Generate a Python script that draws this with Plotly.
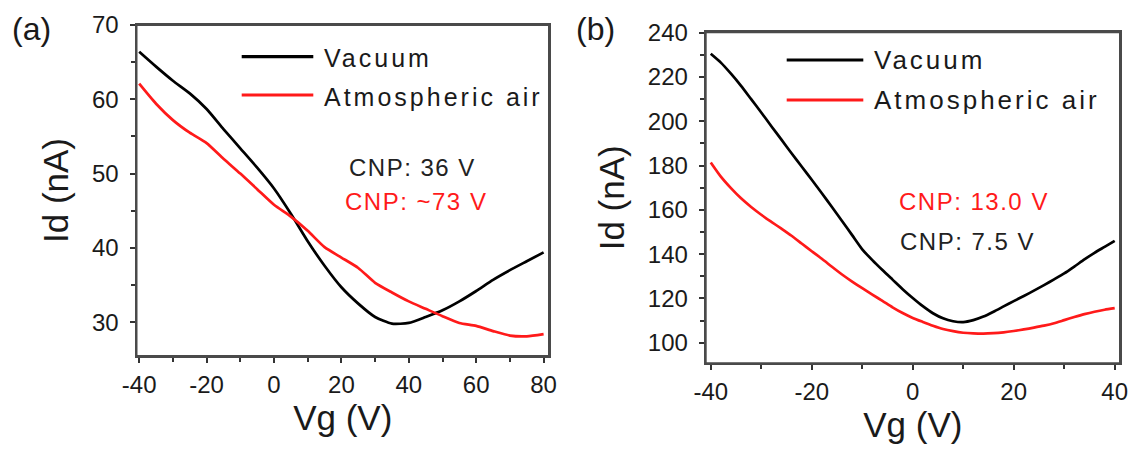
import plotly.graph_objects as go

W, H = 1132, 452

# ---------------- data ----------------
vg_a = [-40, -35, -30, -25, -20, -15, -10, -5, 0, 5, 10, 15, 20, 25, 30, 35, 40, 45, 50, 55, 60, 65, 70, 75, 80]
id_a_vacuum = [66.4, 64.4, 62.5, 60.8, 58.7, 56.0, 53.4, 50.8, 48.0, 44.6, 40.9, 37.6, 34.7, 32.5, 30.7, 29.8,
               29.9, 30.7, 31.6, 32.8, 34.2, 35.7, 37.0, 38.2, 39.4]
id_a_air = [62.1, 59.4, 57.2, 55.5, 54.1, 52.0, 50.0, 47.9, 45.8, 44.2, 42.3, 40.1, 38.7, 37.3, 35.3, 34.0,
            32.8, 31.8, 30.8, 29.9, 29.5, 28.8, 28.2, 28.1, 28.4]

vg_b = [-40, -38, -36, -34, -32, -30, -28, -26, -24, -22, -20, -18, -16, -14, -12, -10, -8, -6, -4, -2, 0,
        2, 4, 6, 8, 10, 12, 14, 16, 18, 20, 22, 24, 26, 28, 30, 32, 34, 36, 38, 40]
id_b_vacuum = [230.5, 226.5, 221.5, 216.0, 210.0, 204.0, 197.8, 191.7, 185.6, 179.6, 173.6, 167.5, 161.3, 155.0,
               148.6, 142.2, 137.3, 132.8, 128.5, 124.2, 120.2, 116.5, 113.3, 111.0, 109.7, 109.3, 110.2,
               111.8, 114.0, 116.4, 118.8, 121.1, 123.5, 126.0, 128.6, 131.3, 134.4, 137.6, 140.6, 143.3, 146.0]
id_b_air = [181.4, 175.0, 169.8, 165.2, 161.3, 157.8, 154.6, 151.5, 148.3, 144.8, 141.3, 137.9, 134.3, 130.8,
            127.6, 124.6, 121.7, 118.9, 116.0, 113.4, 111.2, 109.4, 107.7, 106.2, 105.2, 104.5, 104.2, 104.1,
            104.3, 104.7, 105.3, 106.0, 106.8, 107.7, 108.8, 110.2, 111.6, 112.9, 114.0, 114.9, 115.6]

series_names = ["Vacuum", "Atmospheric air"]
series_colors = ["#000000", "#ff1a1a"]
cnp_a = ["CNP: 36 V", "CNP: ~73 V"]
cnp_b = ["CNP: 13.0 V", "CNP: 7.5 V"]

x_ticks_a = [-40, -20, 0, 20, 40, 60, 80]
y_ticks_a = [30, 40, 50, 60, 70]
x_ticks_b = [-40, -20, 0, 20, 40]
y_ticks_b = [100, 120, 140, 160, 180, 200, 220, 240]

FONT = "Liberation Sans, Arial, sans-serif"
TXT = "#1a1a1a"
FRAME = "#4a4a4a"

BOX_A = (136.5, 549.0, 25.0, 356.0)
BOX_B = (705.7, 1120.0, 32.3, 363.3)


def px(x):
    return x / W


def py(y):
    return 1 - y / H


fig = go.Figure()
for xs, ys_list, xa_name, ya_name in [(vg_a, [id_a_vacuum, id_a_air], "x", "y"),
                                      (vg_b, [id_b_vacuum, id_b_air], "x2", "y2")]:
    for i, ys in enumerate(ys_list):
        fig.add_trace(go.Scatter(x=xs, y=ys, mode="lines", name=series_names[i],
                                 line=dict(color=series_colors[i], width=2.7, shape="spline", smoothing=0.6),
                                 xaxis=xa_name, yaxis=ya_name, showlegend=False))


def axis_common(ticks, minor_dtick):
    return dict(
        showline=True, linecolor=FRAME, linewidth=2, mirror=True,
        ticks="outside", ticklen=5, tickwidth=1.5, tickcolor="#333333",
        showgrid=False, zeroline=False,
        tickmode="array", tickvals=ticks, ticktext=[str(t) for t in ticks],
        minor=dict(ticks="outside", ticklen=4, tickwidth=1.5, tickcolor="#333333", dtick=minor_dtick,
                   tick0=ticks[0], showgrid=False),
        tickfont=dict(family=FONT, size=24, color=TXT),
    )


title_font = dict(family=FONT, size=35, color=TXT)

xa = axis_common(x_ticks_a, 10)
xa.update(domain=[px(BOX_A[0]), px(BOX_A[1])], range=[-40.8, 81.6], anchor="y",
          title=dict(text="Vg (V)", font=title_font, standoff=6), ticklabelstandoff=1)
ya = axis_common(y_ticks_a, 5)
ya.update(domain=[py(BOX_A[3]), py(BOX_A[2])], range=[25.45, 70], anchor="x",
          title=dict(text="Id (nA)", font=title_font, standoff=13), ticklabelstandoff=6)
xb = axis_common(x_ticks_b, 10)
xb.update(domain=[px(BOX_B[0]), px(BOX_B[1])], range=[-41.0, 41.05], anchor="y2",
          title=dict(text="Vg (V)", font=title_font, standoff=6), ticklabelstandoff=1)
yb = axis_common(y_ticks_b, 10)
yb.update(domain=[py(BOX_B[3]), py(BOX_B[2])], range=[90.7, 240.2], anchor="x2",
          title=dict(text="Id (nA)", font=title_font, standoff=13), ticklabelstandoff=6)

shapes = []
annotations = []

# frame around both plot areas
for l, r, t, b in [BOX_A, BOX_B]:
    for (x0, y0, x1, y1) in [(l, t, r, t), (l, b, r, b), (l, t, l, b), (r, t, r, b)]:
        shapes.append(dict(type="line", xref="paper", yref="paper", x0=px(x0), x1=px(x1),
                           y0=py(y0), y1=py(y1), line=dict(color=FRAME, width=2)))

# custom legends (long line samples)
legend_specs = [
    (241.7, 313.3, [56.7, 95.0], 321.7, [58.3, 97.0], 25, 3),
    (786.7, 863.3, [60.0, 100.0], 871.7, [60.0, 100.0], 26, 3),
]
for lx0, lx1, rows, tx, trows, fs, sp in legend_specs:
    for i in range(2):
        shapes.append(dict(type="line", xref="paper", yref="paper", x0=px(lx0), x1=px(lx1),
                           y0=py(rows[i]), y1=py(rows[i]),
                           line=dict(color=series_colors[i], width=3.2)))
        annotations.append(dict(xref="paper", yref="paper", x=px(tx), y=py(trows[i]),
                                xanchor="left", yanchor="middle", showarrow=False,
                                text=f'<span style="letter-spacing:{sp}px">{series_names[i]}</span>',
                                font=dict(family=FONT, size=fs, color=TXT)))

# CNP annotations
cnp_specs = [
    (346.7, 167.5, cnp_a[0], series_colors[0]),
    (343.3, 201.0, cnp_a[1], series_colors[1]),
    (897.0, 201.0, cnp_b[0], series_colors[1]),
    (898.0, 241.0, cnp_b[1], series_colors[0]),
]
for x, y, t, c in cnp_specs:
    annotations.append(dict(xref="paper", yref="paper", x=px(x), y=py(y), xanchor="left", yanchor="middle",
                            showarrow=False,
                            text=f'<span style="letter-spacing:1.5px">{t}</span>',
                            font=dict(family=FONT, size=24, color="#222222" if c == "#000000" else c)))

# panel labels
for x, t in [(10, "(a)"), (574, "(b)")]:
    annotations.append(dict(xref="paper", yref="paper", x=px(x), y=py(28.5), xanchor="left", yanchor="middle",
                            showarrow=False, text=t, font=dict(family=FONT, size=32, color=TXT)))

fig.update_layout(
    width=W, height=H,
    margin=dict(l=0, r=0, t=0, b=0, autoexpand=False),
    paper_bgcolor="white", plot_bgcolor="white",
    xaxis=xa, yaxis=ya, xaxis2=xb, yaxis2=yb,
    shapes=shapes, annotations=annotations,
    showlegend=False,
)

fig.write_html("out.html", config={"displayModeBar": False})
